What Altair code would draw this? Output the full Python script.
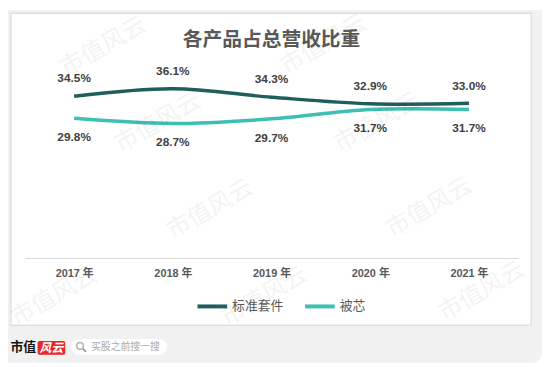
import altair as alt
import pandas as pd

# ---- data ----
years = ["2017 年", "2018 年", "2019 年", "2020 年", "2021 年"]
series_names = ["标准套件", "被芯"]
standard_kit = [34.5, 36.1, 34.3, 32.9, 33.0]
quilt_core = [29.8, 28.7, 29.7, 31.7, 31.7]

title_text = "各产品占总营收比重"
brand_text = "市值"
brand_red_text = "风云"
search_text = "买股之前搜一搜"
watermark_text = "市值风云"

DARK = "#1F5F5B"
TURQ = "#3EBFB4"
CJK = "Noto Sans CJK SC"
LAT = "Liberation Sans, Noto Sans CJK SC"

rows = []
for y, a, b in zip(years, standard_kit, quilt_core):
    rows.append({"year": y, "series": series_names[0], "value": a, "label": f"{a:.1f}%"})
    rows.append({"year": y, "series": series_names[1], "value": b, "label": f"{b:.1f}%"})
df = pd.DataFrame(rows)

W, H = 500, 190

x_enc = alt.X(
    "year:N",
    sort=years,
    scale=alt.Scale(type="point", padding=0.5),
    axis=alt.Axis(
        title=None, labelAngle=0, ticks=False, grid=False,
        domainColor="#d9d9d9", domainWidth=1,
        labelFont=LAT, labelFontSize=11, labelFontWeight="bold",
        labelColor="#595959", labelPadding=10, zindex=1,
    ),
)
y_enc = alt.Y("value:Q", scale=alt.Scale(domain=[0, 40]), axis=None)

one = pd.DataFrame({"k": [0]})
base_dec = alt.Chart(one)

# decorations (backgrounds)
outer = base_dec.mark_rect(color="#f1f1f1", cornerRadiusBottomRight=10).encode(
    x=alt.value(-17), x2=alt.value(524), y=alt.value(-61), y2=alt.value(296)
)
panel = base_dec.mark_rect(fill="white", stroke="#d4d4d4", strokeWidth=1).encode(
    x=alt.value(-14), x2=alt.value(513), y=alt.value(-58), y2=alt.value(258)
)

lines = alt.Chart(df).mark_line(interpolate="cardinal", strokeWidth=3.5).encode(
    x=x_enc,
    y=y_enc,
    color=alt.Color(
        "series:N",
        scale=alt.Scale(domain=series_names, range=[DARK, TURQ]),
        legend=alt.Legend(
            title=None, orient="none", legendX=173, legendY=222,
            direction="horizontal", symbolType="stroke", symbolSize=900,
            symbolStrokeWidth=4, labelFont=CJK, labelFontSize=13,
            labelColor="#595959", labelOffset=3, columnPadding=13,
            padding=0, zindex=1,
        ),
    ),
    detail="series:N",
)

labels_top = alt.Chart(df).transform_filter(
    alt.datum.series == series_names[0]
).mark_text(dy=-18, font=LAT, fontSize=12, fontWeight="bold", color="#404040").encode(
    x=x_enc, y=y_enc, text="label:N"
)
labels_bot = alt.Chart(df).transform_filter(
    alt.datum.series == series_names[1]
).mark_text(dy=19, font=LAT, fontSize=12, fontWeight="bold", color="#404040").encode(
    x=x_enc, y=y_enc, text="label:N"
)

title = base_dec.mark_text(
    font=CJK, fontSize=20, fontWeight="bold", color="#595959", baseline="middle"
).encode(x=alt.value(W / 2), y=alt.value(-31), text=alt.value(title_text))

# footer
brand = base_dec.mark_text(font=CJK, fontSize=13, fontWeight="bold", color="#111111",
                           baseline="middle").encode(
    x=alt.value(-1.5), y=alt.value(280), text=alt.value(brand_text))
redbox = base_dec.mark_rect(color="#e8262b", cornerRadius=2).encode(
    x=alt.value(13), x2=alt.value(41), y=alt.value(274), y2=alt.value(288))
redtext = base_dec.mark_text(font=CJK, fontSize=12, fontStyle="italic", fontWeight="bold",
                             color="white", baseline="middle").encode(
    x=alt.value(27), y=alt.value(281), text=alt.value(brand_red_text))
pill = base_dec.mark_rect(color="white", cornerRadius=8).encode(
    x=alt.value(47), x2=alt.value(144), y=alt.value(272), y2=alt.value(288))
lens = base_dec.mark_point(shape="circle", size=45, filled=False, color="#888888",
                           strokeWidth=1.4).encode(x=alt.value(56), y=alt.value(279))
handle = base_dec.mark_rule(color="#888888", strokeWidth=1.5).encode(
    x=alt.value(59), x2=alt.value(62), y=alt.value(282), y2=alt.value(285))
search = base_dec.mark_text(font=CJK, fontSize=10, color="#aaaaaa", align="left",
                            baseline="middle").encode(
    x=alt.value(67), y=alt.value(280), text=alt.value(search_text))

# watermarks (decoration)
wm = pd.DataFrame({
    "px": [80, 303, 135, 357, 188, 410, 30, 243, 463],
    "py": [-24, -26, 53, 53, 141, 139, 229, 229, 224],
})
watermarks = alt.Chart(wm).mark_text(
    text=watermark_text, font=CJK, fontSize=24, angle=330, color="#000000", opacity=0.045
).encode(x=alt.X("px:Q", scale=None), y=alt.Y("py:Q", scale=None))

chart = alt.layer(
    outer, panel, lines, labels_top, labels_bot, title,
    brand, redbox, redtext, pill, lens, handle, search, watermarks,
).resolve_scale(x="shared", y="shared").properties(
    width=W, height=H,
    autosize=alt.AutoSizeParams(type="none"),
    padding={"left": 17, "top": 61, "right": 24, "bottom": 106},
).configure_view(stroke=None, fill=None).configure(background="white")

chart.save("out.html", embed_options={"renderer": "svg", "actions": False})
